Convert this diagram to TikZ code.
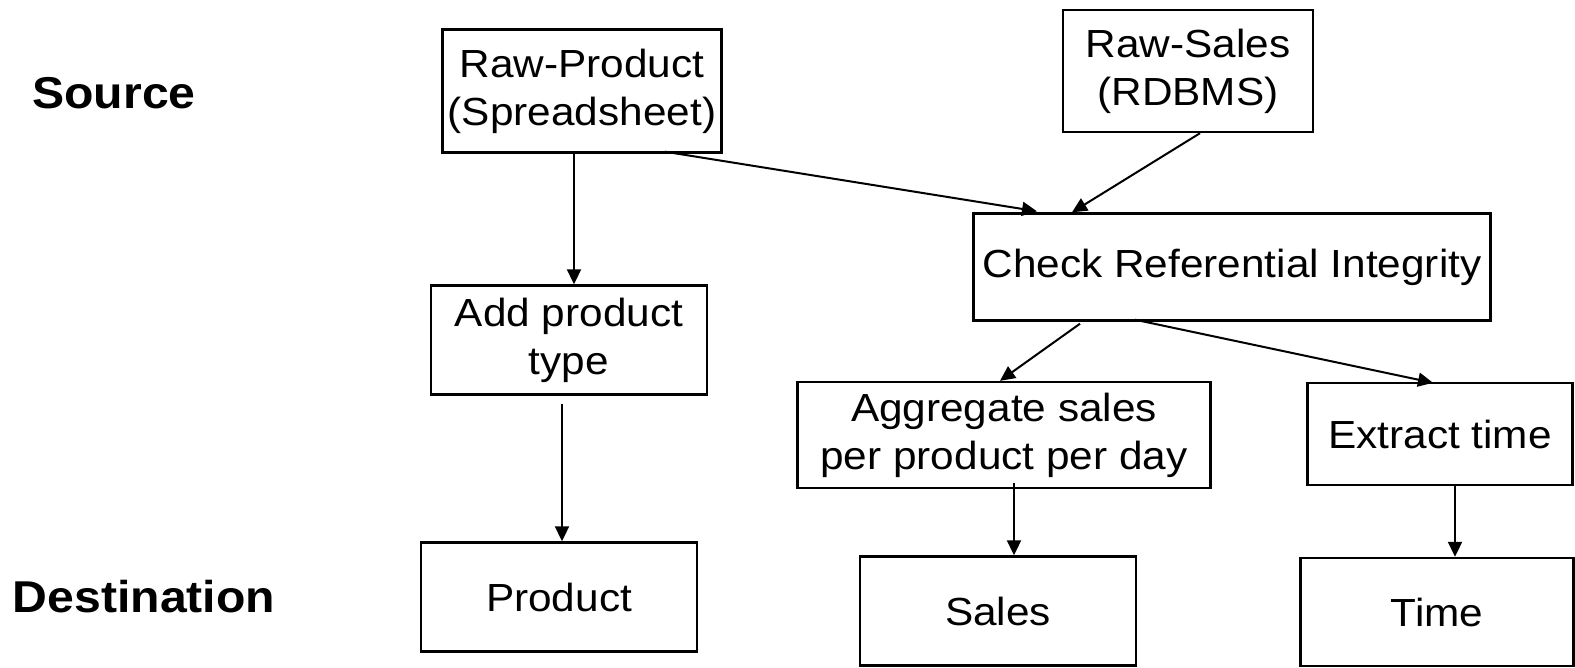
\documentclass[tikz,border=0pt]{standalone}
\usepackage{fontspec}
\setmainfont[FakeStretch=1.08]{Liberation Sans}
\usepackage{tikz}
\usetikzlibrary{arrows.meta,calc,positioning}

\def\px{0.5pt}
\tikzset{
  proc/.style 2 args={draw, line width=1.2pt, inner sep=0pt, align=center,
    minimum width=#1*\px, minimum height=#2*\px,
    font=\fontsize{19.6}{24}\selectfont},
  lbl/.style={font=\fontsize{22.3}{26}\selectfont\bfseries},
  arr/.style={line width=1pt, -{Triangle[length=7.5pt,width=7pt]}}
}

\begin{document}
\begin{tikzpicture}[x=\px, y=-\px]
        \useasboundingbox (0,0) rectangle (1575,668);
        %Labels
        \node[lbl] (src) at (114,93) {Source};
        \node[lbl] (dst) at (144,597) {Destination};
        %Boxes
        \node[proc={279}{123}] (rawprod) at (582,91) {Raw-Product\\(Spreadsheet)};
        \node[proc={250}{122}] (rawsales) at (1188,71) {Raw-Sales\\(RDBMS)};
        \node[proc={517}{107}] (check) at (1232,267) {Check Referential Integrity};
        \node[proc={276}{109}] (addtype) at (569,340) {Add product\\type};
        \node[proc={413}{106}] (aggr) at (1004,435) {Aggregate sales\\per product per day};
        \node[proc={265}{102}] (extract) at (1440,434) {Extract time};
        \node[proc={276}{109}] (product) at (559,597) {Product};
        \node[proc={276}{109}] (sales) at (998,611) {Sales};
        \node[proc={273}{108}] (time) at (1437,612) {Time};
        %Arrows
        \draw[arr] ($(rawprod.south)+(-8,0)$) -- ($(addtype.north)+(5,0)$);
        \draw[arr] ($(rawprod.south)+(83,-2)$) -- ($(check.north)+(-195,-1)$);
        \draw[arr] ($(rawsales.south)+(12,0)$) -- ($(check.north)+(-160,0)$);
        \draw[arr] ($(check.south)+(-152,2)$) -- ($(aggr.north)+(-4,0)$);
        \draw[arr] ($(check.south)+(-97,-2)$) -- ($(extract.north)+(-7,1)$);
        \draw[arr] ($(addtype.south)+(-7,8)$) -- ($(product.north)+(3,0)$);
        \draw[arr] ($(aggr.south)+(10,-6)$) -- ($(sales.north)+(16,0)$);
        \draw[arr] ($(extract.south)+(15,0)$) -- ($(time.north)+(18,0)$);
      \end{tikzpicture}
\end{document}
